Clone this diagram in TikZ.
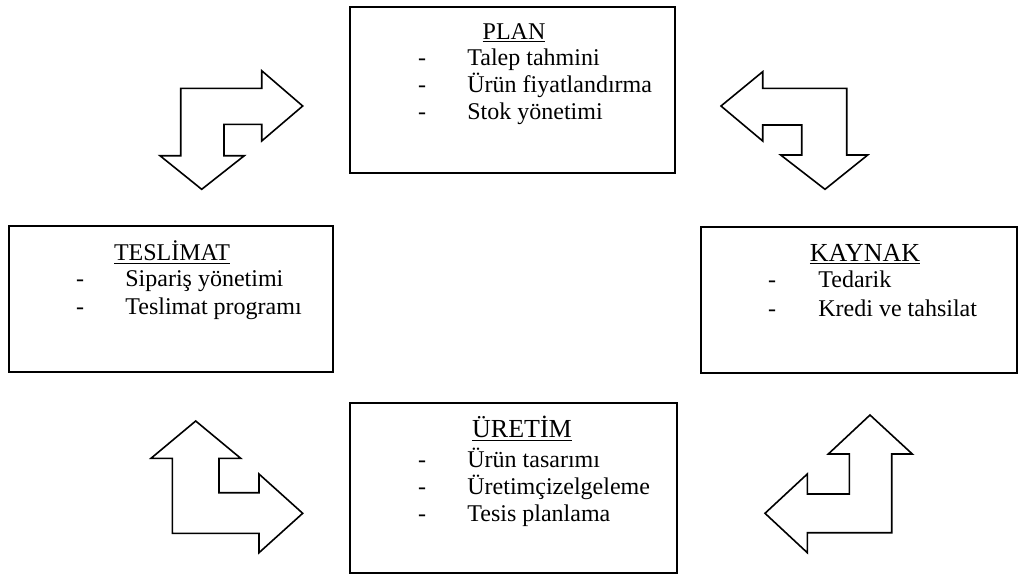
\documentclass[tikz,border=0pt]{standalone}
\usepackage{fontspec}
\setmainfont{Liberation Serif}
\usetikzlibrary{fit}
\begin{document}
\begin{tikzpicture}[x=0.5pt,y=-0.5pt,
  box/.style={draw, line width=1pt, inner sep=0pt, fill=white},
  blockarrow/.style={draw, line width=0.8pt, line join=miter, fill=white},
  ttl/.style={anchor=base, inner sep=0pt, font=\fontsize{12}{14}\selectfont},
  bigttl/.style={anchor=base, inner sep=0pt, font=\fontsize{13}{15}\selectfont},
  itm/.style={anchor=base west, inner sep=0pt, font=\fontsize{12}{14}\selectfont},
  dsh/.style={anchor=base, inner sep=0pt, font=\fontsize{12}{14}\selectfont}]
\useasboundingbox (0,0) rectangle (1019,575);

% boxes
\coordinate (pa) at (350,7);   \coordinate (pb) at (675,173);
\coordinate (ta) at (9,226);   \coordinate (tb) at (333,372);
\coordinate (ka) at (701,227); \coordinate (kb) at (1017,373);
\coordinate (ua) at (350,403); \coordinate (ub) at (677,573);
\node[box, fit=(pa)(pb)] (plan) {};
\node[box, fit=(ta)(tb)] (teslimat) {};
\node[box, fit=(ka)(kb)] (kaynak) {};
\node[box, fit=(ua)(ub)] (uretim) {};

% PLAN texts
\node[ttl] (planT) at (514,39) {\underline{PLAN}};
\node[dsh] (pd1) at (422,65) {-};
\node[itm] (pi1) at (467,65) {Talep tahmini};
\node[dsh] (pd2) at (422,92) {-};
\node[itm] (pi2) at (467,92) {Ürün fiyatlandırma};
\node[dsh] (pd3) at (422,119) {-};
\node[itm] (pi3) at (467,119) {Stok yönetimi};

% TESLIMAT texts
\node[ttl] (tesT) at (172,260) {\underline{TESLİMAT}};
\node[dsh] (td1) at (80,286) {-};
\node[itm] (ti1) at (125,286) {Sipariş yönetimi};
\node[dsh] (td2) at (80,314) {-};
\node[itm] (ti2) at (125,314) {Teslimat programı};

% KAYNAK texts
\node[bigttl] (kayT) at (865,261) {\underline{KAYNAK}};
\node[dsh] (kd1) at (772,287) {-};
\node[itm] (ki1) at (818,287) {Tedarik};
\node[dsh] (kd2) at (772,316) {-};
\node[itm] (ki2) at (818,316) {Kredi ve tahsilat};

% URETIM texts
\node[bigttl] (urT) at (522,437) {\underline{ÜRETİM}};
\node[dsh] (ud1) at (422,467) {-};
\node[itm] (ui1) at (467,467) {Ürün tasarımı};
\node[dsh] (ud2) at (422,494) {-};
\node[itm] (ui2) at (467,494) {Üretimçizelgeleme};
\node[dsh] (ud3) at (422,521) {-};
\node[itm] (ui3) at (467,521) {Tesis planlama};

% block arrows
% top-left: right and down
\draw[blockarrow] (180.7,88.3) -- (261.7,88.3) -- (261.7,70.7) -- (302.7,106)
  -- (261.7,141) -- (261.7,124.3) -- (224,124.3) -- (224,155.7) -- (244.3,155.7)
  -- (201.7,189.3) -- (160,155.7) -- (180.7,155.7) -- cycle;
% top-right: left and down
\draw[blockarrow] (846.7,88.3) -- (762.7,88.3) -- (762.7,71.7) -- (721,106)
  -- (762.7,141) -- (762.7,125) -- (801.7,125) -- (801.7,155) -- (780.7,155)
  -- (825,189.3) -- (867.7,155) -- (846.7,155) -- cycle;
% bottom-left: up and right
\draw[blockarrow] (172.3,533.3) -- (172.3,458.3) -- (151,458.3) -- (195.7,421)
  -- (240.7,458.3) -- (219,458.3) -- (219,492.7) -- (259,492.7) -- (259,474)
  -- (302.7,513.3) -- (259,552.7) -- (259,533.3) -- cycle;
% bottom-right: up and left
\draw[blockarrow] (891.7,532.7) -- (891.7,454) -- (912.3,454) -- (870,415)
  -- (828.3,454) -- (849.3,454) -- (849.3,494) -- (807.3,494) -- (807.3,474)
  -- (765,513.3) -- (807.3,552.7) -- (807.3,532.7) -- cycle;
\end{tikzpicture}
\end{document}
